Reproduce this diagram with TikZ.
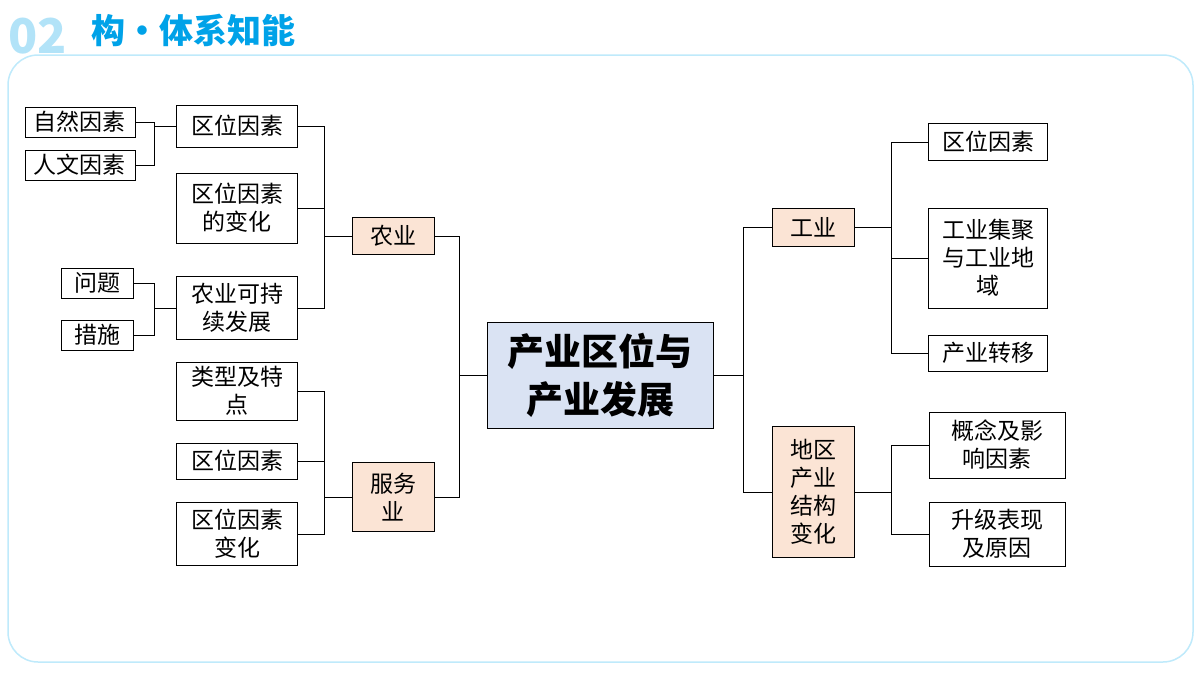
\documentclass[tikz,border=0pt]{standalone}
\usepackage{fontspec}
\setmainfont{Noto Sans CJK SC}
\newfontfamily\hdfont{Noto Sans CJK SC Black}
\usetikzlibrary{positioning}
\definecolor{peach}{RGB}{251,228,213}
\definecolor{paleblue}{RGB}{218,227,243}
\definecolor{headblue}{RGB}{0,162,232}
\tikzset{
  box/.style={draw, thick, inner sep=0pt, align=center,
    font=\fontsize{23}{28}\selectfont},
  mid/.style={box, fill=peach},
  link/.style={thick}
}
\begin{document}
\begin{tikzpicture}[x=1pt,y=-1pt]
  \useasboundingbox (0,0) rectangle (1200,675);
  % frame and heading
  \draw[draw=cyan!25, line width=1.5pt, rounded corners=30pt, fill=white]
    (8,55) rectangle (1193,662);
  \node[anchor=west, text=headblue!30, font=\bfseries\fontsize{48}{48}\selectfont] (num) at (5,36) {02};
  \node[anchor=west, text=headblue, font=\hdfont\fontsize{34}{34}\selectfont] (head) at (88,30) {构·体系知能};

  % centre
  \node[box, fill=paleblue, minimum width=226, minimum height=106,
    font=\bfseries\fontsize{37}{48}\selectfont] (core) at (600,375) {产业区位与\\产业发展};

  % left half
  \node[mid, minimum width=82, minimum height=37] (agri) at (393,236) {农业};
  \node[mid, minimum width=82, minimum height=69] (serv) at (393,497) {服务\\业};
  \node[box, minimum width=121, minimum height=42] (a1) at (237,126) {区位因素};
  \node[box, minimum width=121, minimum height=70] (a2) at (237,208) {区位因素\\的变化};
  \node[box, minimum width=121, minimum height=63] (a3) at (237,308) {农业可持\\续发展};
  \node[box, minimum width=121, minimum height=58] (s1) at (237,391) {类型及特\\点};
  \node[box, minimum width=121, minimum height=36] (s2) at (237,461) {区位因素};
  \node[box, minimum width=121, minimum height=63] (s3) at (237,534) {区位因素\\变化};
  \node[box, minimum width=110, minimum height=30] (n1) at (80,122) {自然因素};
  \node[box, minimum width=110, minimum height=30] (n2) at (80,165) {人文因素};
  \node[box, minimum width=72, minimum height=30] (q1) at (97,283) {问题};
  \node[box, minimum width=72, minimum height=30] (q2) at (97,335) {措施};

  % right half
  \node[mid, minimum width=82, minimum height=38] (ind) at (813,227) {工业};
  \node[mid, minimum width=82, minimum height=131] (reg) at (813,492) {地区\\产业\\结构\\变化};
  \node[box, minimum width=119, minimum height=37] (i1) at (988,142) {区位因素};
  \node[box, minimum width=119, minimum height=100] (i2) at (988,258) {工业集聚\\与工业地\\域};
  \node[box, minimum width=119, minimum height=36] (i3) at (988,353) {产业转移};
  \node[box, minimum width=136, minimum height=66] (r1) at (997,445) {概念及影\\响因素};
  \node[box, minimum width=136, minimum height=64] (r2) at (997,534) {升级表现\\及原因};

  % connectors
  \foreach \c in {agri,serv} \draw[link] (core.west) -- ++(-27,0) |- (\c.east);
  \foreach \c in {a1,a2,a3} \draw[link] (agri.west) -- ++(-27,0) |- (\c.east);
  \foreach \c in {s1,s2,s3} \draw[link] (serv.west) -- ++(-27,0) |- (\c.east);
  \foreach \c in {n1,n2} \draw[link] (a1.west) -- ++(-22,0) |- (\c.east);
  \foreach \c in {q1,q2} \draw[link] (a3.west) -- ++(-22,0) |- (\c.east);
  \foreach \c in {ind,reg} \draw[link] (core.east) -- ++(30,0) |- (\c.west);
  \foreach \c in {i1,i2,i3} \draw[link] (ind.east) -- ++(37,0) |- (\c.west);
  \foreach \c in {r1,r2} \draw[link] (reg.east) -- ++(37,0) |- (\c.west);
\end{tikzpicture}
\end{document}
